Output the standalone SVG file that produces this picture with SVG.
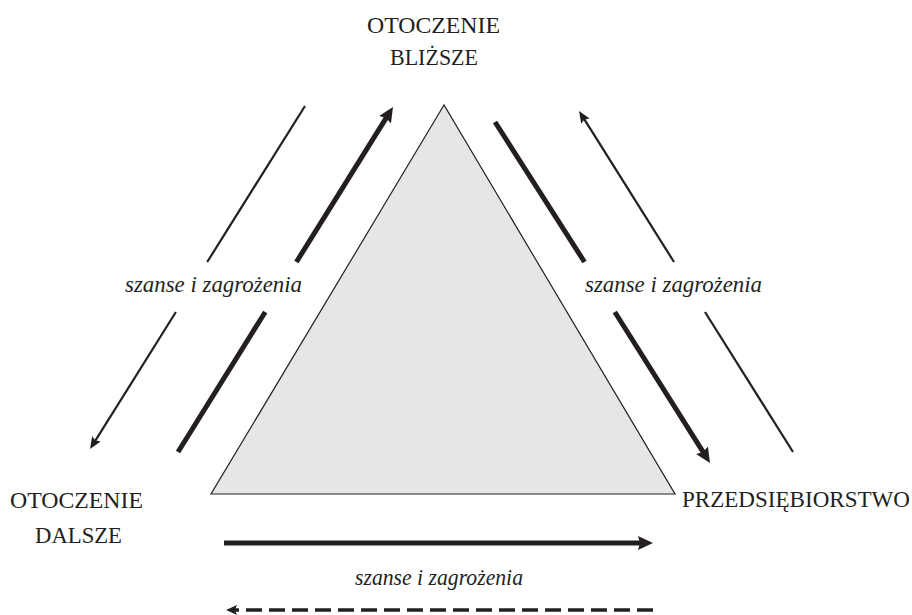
<svg xmlns="http://www.w3.org/2000/svg" width="912" height="615" viewBox="0 0 912 615">
<style>
.cap{font-family:"Liberation Serif","Times New Roman",serif;font-size:23px;fill:#231f20}
.it{font-family:"Liberation Serif","Times New Roman",serif;font-size:24px;font-style:italic;fill:#231f20}
.thin{stroke:#231f20;stroke-width:2.2;fill:none}
.thick{stroke:#231f20;stroke-width:5;fill:none}
.dash{stroke:#231f20;stroke-width:3.5;fill:none;stroke-dasharray:16 7}
</style>
<defs>
<marker id="hThin" viewBox="0 0 12 10" markerWidth="12" markerHeight="10" refX="7" refY="5" orient="auto" markerUnits="userSpaceOnUse">
<path d="M0,0 L12,5 L0,10 L2,5 z" fill="#231f20"/>
</marker>
<marker id="hThick" viewBox="0 0 15 14" markerWidth="15" markerHeight="14" refX="9" refY="7" orient="auto" markerUnits="userSpaceOnUse">
<path d="M0,0 L15,7 L0,14 L2,7 z" fill="#231f20"/>
</marker>
<marker id="hDash" viewBox="0 0 11 10" markerWidth="11" markerHeight="10" refX="6" refY="5" orient="auto" markerUnits="userSpaceOnUse">
<path d="M0,0 L11,5 L0,10 L2,5 z" fill="#231f20"/>
</marker>
</defs>
<g id="triangle">
<polygon points="444,105 211,494 675,494" fill="#e6e6e6" stroke="#231f20" stroke-width="1.2"/>
</g>
<g id="otoczenie-blizsze">
<text class="cap" x="433.5" y="33" text-anchor="middle" textLength="133" lengthAdjust="spacingAndGlyphs">OTOCZENIE</text>
<text class="cap" x="434" y="65" text-anchor="middle" textLength="88" lengthAdjust="spacingAndGlyphs">BLIŻSZE</text>
</g>
<g id="otoczenie-dalsze">
<text class="cap" x="76.5" y="508" text-anchor="middle" textLength="133" lengthAdjust="spacingAndGlyphs">OTOCZENIE</text>
<text class="cap" x="78.5" y="543" text-anchor="middle" textLength="87" lengthAdjust="spacingAndGlyphs">DALSZE</text>
</g>
<g id="przedsiebiorstwo">
<text class="cap" x="682" y="507" textLength="228" lengthAdjust="spacingAndGlyphs">PRZEDSIĘBIORSTWO</text>
</g>
<g id="connectors">
<line class="thin" x1="305" y1="106" x2="207.2" y2="262"/>
<line class="thin" x1="175.9" y1="312" x2="92.7" y2="444.8" marker-end="url(#hThin)"/>
<line class="thick" x1="178" y1="452" x2="265.2" y2="312"/>
<line class="thick" x1="296.4" y1="262" x2="389.8" y2="112.1" marker-end="url(#hThick)"/>
<line class="thick" x1="495" y1="122" x2="584.5" y2="262"/>
<line class="thick" x1="614.8" y1="312" x2="706.8" y2="457.9" marker-end="url(#hThick)"/>
<line class="thin" x1="793" y1="452" x2="705" y2="312"/>
<line class="thin" x1="674" y1="262" x2="581.7" y2="115.2" marker-end="url(#hThin)"/>
<line class="thick" x1="224" y1="543" x2="647" y2="543" marker-end="url(#hThick)"/>
<line class="dash" x1="653" y1="610" x2="231" y2="610" marker-end="url(#hDash)"/>
</g>
<g id="labels">
<text class="it" x="213.5" y="292" text-anchor="middle" textLength="177" lengthAdjust="spacingAndGlyphs">szanse i zagrożenia</text>
<text class="it" x="673.5" y="292" text-anchor="middle" textLength="177" lengthAdjust="spacingAndGlyphs">szanse i zagrożenia</text>
<text class="it" x="439" y="585" text-anchor="middle" textLength="168" lengthAdjust="spacingAndGlyphs">szanse i zagrożenia</text>
</g>
</svg>
